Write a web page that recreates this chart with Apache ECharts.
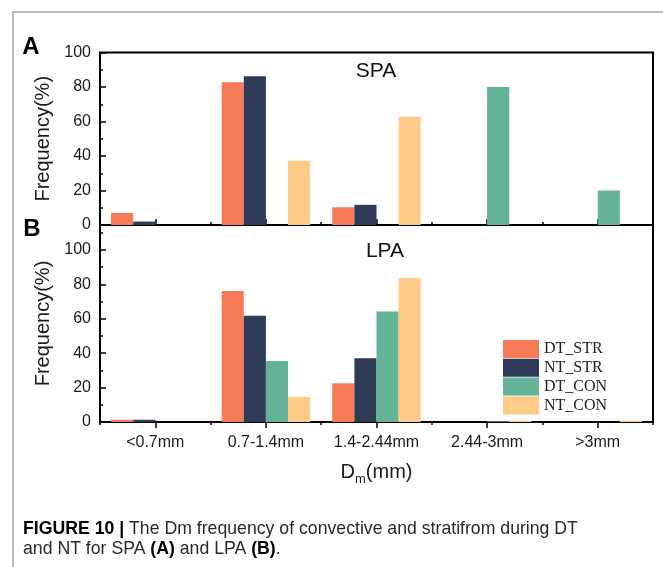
<!DOCTYPE html>
<html>
<head>
<meta charset="utf-8">
<script src="https://cdn.jsdelivr.net/npm/echarts@6/dist/echarts.min.js"></script>
<style>
  html, body { margin: 0; padding: 0; background: #fff; }
  #chart { width: 663px; height: 567px; }
</style>
</head>
<body>
<div id="chart"></div>
<script>
// Dm size classes on the shared x axis
const categories = ['<0.7mm', '0.7-1.4mm', '1.4-2.44mm', '2.44-3mm', '>3mm'];
const seriesNames = ['DT_STR', 'NT_STR', 'DT_CON', 'NT_CON'];

// Frequency (%) for SPA, panel A
const spaDtStr = [7, 82.7, 10.3, 0, 0];
const spaNtStr = [2, 86.3, 11.7, 0, 0];
const spaDtCon = [0, 0, 0, 80, 20];
const spaNtCon = [0, 37.2, 62.8, 0, 0];

// Frequency (%) for LPA, panel B
const lpaDtStr = [1.3, 76.2, 22.5, 0, 0];
const lpaNtStr = [1.3, 61.7, 37, 0, 0];
const lpaDtCon = [0, 35.4, 64.2, 0.4, 0];
const lpaNtCon = [0, 14.6, 83.7, 0.8, 0.9];

const yTickLabels = [0, 20, 40, 60, 80, 100];

const palette = ['#F77A56', '#2E3B56', '#65B396', '#FECB88'];
const SANS = 'Liberation Sans, Arial, sans-serif';
const SERIF = 'Liberation Serif, Times New Roman, serif';

const chart = echarts.init(document.getElementById('chart'), null, { renderer: 'canvas' });

function yAxisFor(gridIndex, max) {
  return {
    type: 'value', gridIndex: gridIndex, min: 0, max: max, interval: 20,
    name: 'Frequency(%)', nameLocation: 'middle', nameGap: 42, nameRotate: 90,
    nameTextStyle: { fontFamily: SANS, fontSize: 20, color: '#1a1a1a' },
    axisLine: { show: false },
    axisTick: { show: true, inside: true, length: 6, lineStyle: { color: '#000', width: 1.5 } },
    minorTick: { show: true, splitNumber: 2, length: 3, lineStyle: { color: '#000', width: 1.5 } },
    splitLine: { show: false },
    axisLabel: {
      fontFamily: SANS, fontSize: 16, color: '#1a1a1a', margin: 9,
      formatter: function (v) { return yTickLabels.indexOf(v) >= 0 ? String(v) : ''; }
    }
  };
}

function majorX(gridIndex, inside, showLabels) {
  return {
    type: 'category', gridIndex: gridIndex, position: 'bottom', data: categories,
    axisLine: { show: false },
    axisTick: { show: true, alignWithLabel: true, inside: inside, length: 6, lineStyle: { color: '#000', width: 1.5 } },
    axisLabel: { show: showLabels, interval: 0, fontFamily: SANS, fontSize: 16, color: '#1a1a1a', margin: 13 },
    splitLine: { show: false }
  };
}

function minorX(gridIndex, inside) {
  return {
    type: 'category', gridIndex: gridIndex, position: 'bottom', data: categories,
    axisLine: { show: false },
    axisTick: { show: true, inside: inside, length: 3, lineStyle: { color: '#000', width: 1.5 } },
    axisLabel: { show: false },
    splitLine: { show: false }
  };
}

const xB = majorX(1, false, true);
xB.name = '{d|D}{s|m}{d|(mm)}';
xB.nameLocation = 'middle';
xB.nameGap = 40;
xB.nameTextStyle = {
  rich: {
    d: { fontFamily: SANS, fontSize: 20, color: '#1a1a1a', lineHeight: 24, verticalAlign: 'top' },
    s: { fontFamily: SANS, fontSize: 13, color: '#1a1a1a', lineHeight: 13, verticalAlign: 'bottom' }
  }
};

function bars(name, data, color, idx) {
  return {
    name: name, type: 'bar', data: data, xAxisIndex: idx, yAxisIndex: idx,
    barGap: '0%', barCategoryGap: '20%',
    itemStyle: { color: color }
  };
}

const option = {
  backgroundColor: '#fff',
  animation: false,
  grid: [
    { left: 100, right: 10, top: 52.5, height: 172.5, show: true, borderColor: '#000', borderWidth: 2, backgroundColor: 'transparent' },
    { left: 100, right: 10, top: 225, height: 197, show: true, borderColor: '#000', borderWidth: 2, backgroundColor: 'transparent' }
  ],
  xAxis: [majorX(0, true, false), xB, minorX(0, true), minorX(1, false)],
  yAxis: [yAxisFor(0, 100), yAxisFor(1, 114.5)],
  legend: {
    orient: 'vertical', left: 498, top: 335,
    itemWidth: 36, itemHeight: 18, itemGap: 0.8,
    icon: 'rect',
    data: seriesNames,
    textStyle: { fontFamily: SERIF, fontSize: 16, color: '#222' }
  },
  series: [
    bars(seriesNames[0], spaDtStr, palette[0], 0),
    bars(seriesNames[1], spaNtStr, palette[1], 0),
    bars(seriesNames[2], spaDtCon, palette[2], 0),
    bars(seriesNames[3], spaNtCon, palette[3], 0),
    bars(seriesNames[0], lpaDtStr, palette[0], 1),
    bars(seriesNames[1], lpaNtStr, palette[1], 1),
    bars(seriesNames[2], lpaDtCon, palette[2], 1),
    bars(seriesNames[3], lpaNtCon, palette[3], 1)
  ],
  graphic: [
    // page frame
    { type: 'polyline', silent: true, shape: { points: [[13, 567], [13, 12], [663, 12]] },
      style: { stroke: '#a3a3a3', lineWidth: 1.5, fill: null } },
    // panel letters
    { type: 'text', x: 31, y: 47.5, style: { text: 'A', fontFamily: SANS, fontWeight: 'bold', fontSize: 24, fill: '#000', align: 'center', verticalAlign: 'middle' } },
    { type: 'text', x: 32, y: 229, style: { text: 'B', fontFamily: SANS, fontWeight: 'bold', fontSize: 24, fill: '#000', align: 'center', verticalAlign: 'middle' } },
    // panel titles
    { type: 'text', x: 376, y: 71, style: { text: 'SPA', fontFamily: SANS, fontSize: 21, fill: '#111', align: 'center', verticalAlign: 'middle' } },
    { type: 'text', x: 385, y: 251, style: { text: 'LPA', fontFamily: SANS, fontSize: 21, fill: '#111', align: 'center', verticalAlign: 'middle' } },
    // figure caption
    { type: 'text', x: 23, y: 529, scaleX: 0.93,
      style: { text: '{b|FIGURE 10 |} The Dm frequency of convective and stratifrom during DT',
        fontFamily: SANS, fontSize: 19, fill: '#2a2a2a', verticalAlign: 'middle',
        rich: { b: { fontFamily: SANS, fontWeight: 'bold', fontSize: 19, fill: '#000' } } } },
    { type: 'text', x: 23, y: 549, scaleX: 0.93,
      style: { text: 'and NT for SPA {b|(A)} and LPA {b|(B)}.',
        fontFamily: SANS, fontSize: 19, fill: '#2a2a2a', verticalAlign: 'middle',
        rich: { b: { fontFamily: SANS, fontWeight: 'bold', fontSize: 19, fill: '#000' } } } }
  ]
};

chart.setOption(option);
</script>
</body>
</html>
